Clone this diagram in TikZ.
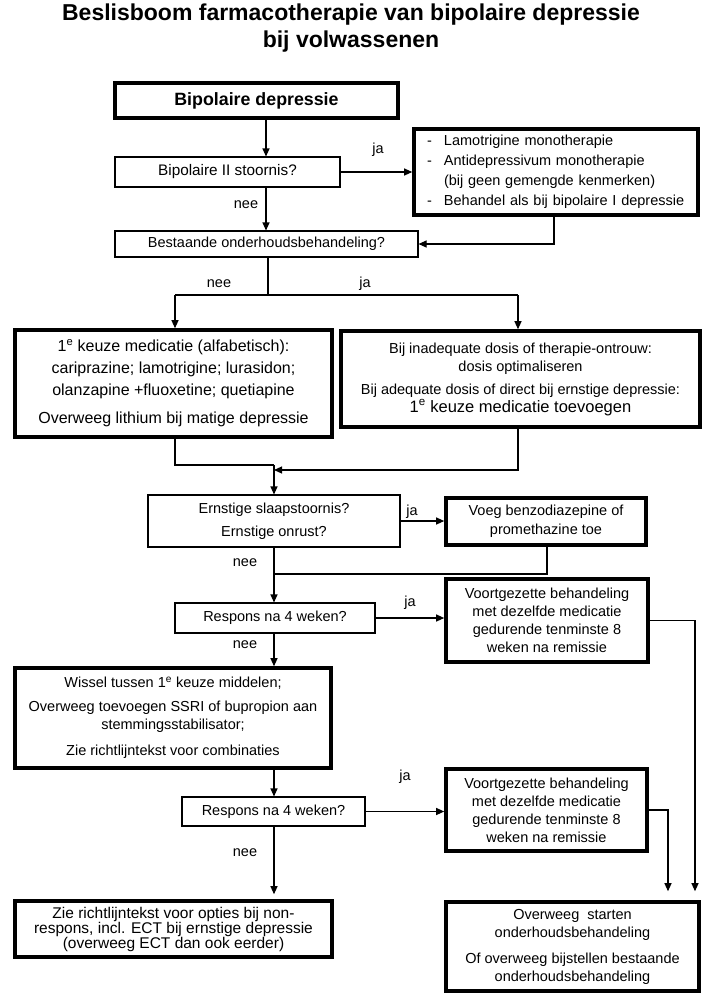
\documentclass[tikz,border=0pt]{standalone}
\usepackage{fontspec}
\setmainfont{Liberation Sans}
\usetikzlibrary{arrows.meta,calc}
\begin{document}
\begin{tikzpicture}[x=1pt,y=-1pt,
  every node/.style={font=\fontsize{14.5}{18}\selectfont, inner sep=0pt, align=center},
  thin box/.style={draw, line width=1.1pt, rectangle},
  thick box/.style={draw, line width=3.6pt, rectangle},
  arr/.style={line width=1.1pt, -{Triangle[length=8pt,width=7pt]}},
  con/.style={line width=1.1pt},
  lbl/.style={font=\fontsize{14.5}{18}\selectfont}
]
\useasboundingbox[fill=white] (0,0) rectangle (703,997);

% title
\node[font=\bfseries\fontsize{23}{26.5}\selectfont] (title) at (351,28) {Beslisboom farmacotherapie van bipolaire depressie\\ bij volwassenen};

% boxes
\node[thick box, minimum width=283pt, minimum height=35pt, font=\bfseries\fontsize{17.8}{20}\selectfont] (b1) at (256.5,100.5) {Bipolaire depressie};
\node[thin box, minimum width=225pt, minimum height=30pt, font=\fontsize{15.3}{18}\selectfont] (b2) at (227.5,172) {Bipolaire II stoornis?};
\node[thick box, text width=258pt, inner xsep=13pt, minimum height=86pt, align=left, font=\fontsize{14.5}{20}\selectfont] (r1) at (556,172)
  {\makebox[17pt][l]{-}Lamotrigine monotherapie\\
   \makebox[17pt][l]{-}Antidepressivum monotherapie\\
   \hspace*{17pt}(bij geen gemengde kenmerken)\\
   \makebox[17pt][l]{-}Behandel als bij bipolaire I depressie};
\node[thin box, minimum width=303pt, minimum height=26pt] (b3) at (266.5,244) {Bestaande onderhoudsbehandeling?};

\node[thick box, minimum width=317pt, minimum height=107pt, font=\fontsize{16}{22}\selectfont] (l1) at (173.5,383.5)
  {1\textsuperscript{e} keuze medicatie (alfabetisch):\\
   cariprazine; lamotrigine; lurasidon;\\
   olanzapine +fluoxetine; quetiapine\\[6pt]
   Overweeg lithium bij matige depressie};
\node[thick box, minimum width=359pt, minimum height=96pt] (r2) at (520.5,379)
  {Bij inadequate dosis of therapie-ontrouw:\\
   dosis optimaliseren\\[5pt]
   Bij adequate dosis of direct bij ernstige depressie:\\
   {\fontsize{16.5}{19}\selectfont 1\textsuperscript{e} keuze medicatie toevoegen}};

\node[thin box, minimum width=252pt, minimum height=52pt, font=\fontsize{14.5}{23}\selectfont] (s) at (274,521)
  {Ernstige slaapstoornis?\\ Ernstige onrust?};
\node[thick box, minimum width=200pt, minimum height=47pt, font=\fontsize{14.5}{19}\selectfont] (v) at (546,521.5)
  {Voeg benzodiazepine of\\ promethazine toe};

\node[thin box, minimum width=200pt, minimum height=30pt] (q1) at (275,618) {Respons na 4 weken?};
\node[thick box, minimum width=202pt, minimum height=83pt] (t1) at (547,620.5)
  {Voortgezette behandeling\\ met dezelfde medicatie\\ gedurende tenminste 8\\ weken na remissie};

\node[thick box, minimum width=316pt, minimum height=100pt] (w) at (173,718)
  {Wissel tussen 1\textsuperscript{e} keuze middelen;\\[6pt]
   Overweeg toevoegen SSRI of bupropion aan\\
   stemmingsstabilisator;\\[8pt]
   Zie richtlijntekst voor combinaties};

\node[thin box, minimum width=183pt, minimum height=29pt] (q2) at (273.5,811.5) {Respons na 4 weken?};
\node[thick box, minimum width=201pt, minimum height=82pt] (t2) at (546.5,810)
  {Voortgezette behandeling\\ met dezelfde medicatie\\ gedurende tenminste 8\\ weken na remissie};

\node[thick box, minimum width=317pt, minimum height=56pt, font=\fontsize{15.5}{15}\selectfont] (nr) at (173.5,929)
  {Zie richtlijntekst voor opties bij non-\\ respons, incl. ECT bij ernstige depressie\\ (overweeg ECT dan ook eerder)};
\node[thick box, minimum width=253pt, minimum height=89pt] (fin) at (572.5,946.5)
  {Overweeg~ starten\\ onderhoudsbehandeling\\[8pt] Of overweeg bijstellen bestaande\\ onderhoudsbehandeling};

% helper coordinates
\coordinate (c1) at (266,0);
\coordinate (c2) at (268,0);
\coordinate (c3) at (274,0);
\coordinate (cr1) at (554,0);
\coordinate (sL) at (175,295);
\coordinate (sR) at (518,295);
\coordinate (m1) at (274,465);
\coordinate (m2) at (274,470);
\coordinate (cv) at (547,0);
\coordinate (vj) at (274,574);
\coordinate (ft2) at (668,0);
\coordinate (ft1) at (695,0);

% connectors
\draw[arr] (b1.south -| c1) -- (b2.north -| c1);
\draw[arr] (b2.east) -- (b2.east -| r1.west);
\node[lbl] (ja1) at (378,150) {ja};
\draw[arr] (b2.south -| c1) -- (b3.north -| c1);
\node[lbl] (nee1) at (246,205) {nee};
\draw[arr] (r1.south -| cr1) |- (b3.east);

\draw[con] (b3.south -| c2) -- (c2 |- sL);
\draw[con] (sL) -- (sR);
\draw[arr] (sL) -- (l1.north -| sL);
\draw[arr] (sR) -- (r2.north -| sR);
\node[lbl] (nee2) at (219,284) {nee};
\node[lbl] (ja2) at (365,284) {ja};

\draw[con] (l1.south -| sL) |- (m1);
\draw[arr] (r2.south -| sR) |- (m2);
\draw[arr] (m1) -- (s.north -| c3);

\draw[arr] (s.east) -- (s.east -| v.west);
\node[lbl] (ja3) at (412,512) {ja};
\draw[con] (v.south -| cv) |- (vj);
\draw[arr] (s.south -| c3) -- (q1.north -| c3);
\node[lbl] (nee3) at (245,563) {nee};

\draw[arr] (q1.east) -- (q1.east -| t1.west);
\node[lbl] (ja4) at (410,603) {ja};
\draw[arr, shorten >=9pt] (t1.east) -| (fin.north -| ft1);
\draw[arr] (q1.south -| c3) -- (w.north -| c3);
\node[lbl] (nee4) at (245,645) {nee};

\draw[arr] (w.south -| c3) -- (q2.north -| c3);
\draw[arr] (q2.east) -- (q2.east -| t2.west);
\node[lbl] (ja5) at (405,777) {ja};
\draw[arr, shorten >=9pt] (t2.east) -| (fin.north -| ft2);
\draw[arr, shorten >=5pt] (q2.south -| c3) -- (nr.north -| c3);
\node[lbl] (nee5) at (245,853) {nee};
\end{tikzpicture}
\end{document}
